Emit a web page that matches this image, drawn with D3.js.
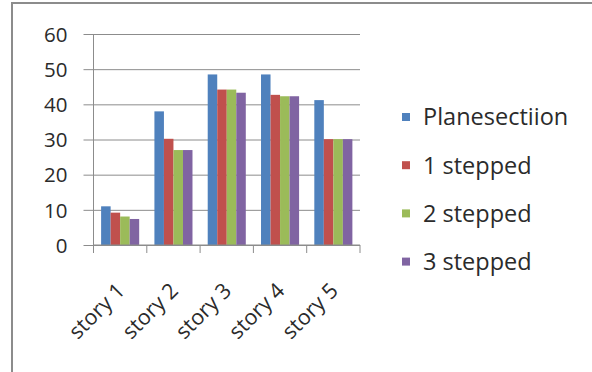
<!DOCTYPE html>
<html><head><meta charset="utf-8">
<script src="https://cdn.jsdelivr.net/npm/d3@7"></script>
<style>html,body{margin:0;padding:0;background:#fff;overflow:hidden}</style>
</head><body>
<svg id="c" width="592" height="372"></svg>
<script>
const categories = ["story 1","story 2","story 3","story 4","story 5"];
const seriesNames = ["Planesectiion","1 stepped","2 stepped","3 stepped"];
const planesection = [11, 38, 48.5, 48.5, 41.2];
const stepped1 = [9.2, 30.2, 44.2, 42.7, 30.1];
const stepped2 = [8.1, 27, 44.2, 42.3, 30.1];
const stepped3 = [7.4, 27, 43.3, 42.3, 30.1];
const yTicks = [0,10,20,30,40,50,60];
const colors = ["#4F81BD","#C0504D","#9BBB59","#8064A2"];

const seriesValues = [planesection, stepped1, stepped2, stepped3];
const svg = d3.select("#c");
const font = "'Open Sans', sans-serif";
const textColor = "#2b2b2b";

// frame
svg.append("path").attr("d","M12,372 L12,3 L592,3").attr("fill","none").attr("stroke","#8c8c8c").attr("stroke-width",2);

const plot = {left:93.5, right:360, top:34, bottom:245};
const y = d3.scaleLinear().domain([0,60]).range([plot.bottom, plot.top]);
const x0 = d3.scaleBand().domain(categories).range([plot.left, plot.right]).paddingInner(0).paddingOuter(0);
const x1 = d3.scaleBand().domain(seriesNames).range([0, x0.bandwidth()]).paddingInner(0).paddingOuter(0.8);

// gridlines + y axis
const yAxis = d3.axisLeft(y).tickValues(yTicks).tickSize(-(plot.right-plot.left)).tickPadding(0).tickFormat(d3.format("d"));
const gy = svg.append("g").attr("transform",`translate(${plot.left},0)`).call(yAxis);
gy.select(".domain").remove();
gy.selectAll(".tick line").attr("x1",-10).attr("stroke","#8c8c8c").attr("stroke-width",1);
gy.selectAll(".tick text").attr("x",-26).attr("font-family",font).attr("font-size",20.5).attr("fill",textColor).attr("dy","0.35em");
svg.append("line").attr("x1",plot.left).attr("x2",plot.left).attr("y1",plot.top).attr("y2",plot.bottom).attr("stroke","#8c8c8c");

// bars
const groups = svg.append("g").selectAll("g").data(categories).join("g")
  .attr("transform",d=>`translate(${x0(d)},0)`);
groups.selectAll("rect").data((d,i)=>seriesNames.map((s,j)=>({s, v:seriesValues[j][i], j})))
  .join("rect")
  .attr("x",d=>x1(d.s)).attr("width",x1.bandwidth())
  .attr("y",d=>y(d.v)).attr("height",d=>y(0)-y(d.v))
  .attr("fill",d=>colors[d.j]);

// x axis
const gx = svg.append("g").attr("transform",`translate(0,${plot.bottom})`);
gx.append("line").attr("x1",plot.left).attr("x2",plot.right).attr("stroke","#8c8c8c");
const boundaries = categories.map(c=>x0(c)).concat([x0(categories[categories.length-1])+x0.bandwidth()]);
gx.selectAll("line.tk").data(boundaries).join("line").attr("class","tk")
  .attr("x1",d=>d).attr("x2",d=>d).attr("y1",0).attr("y2",8).attr("stroke","#8c8c8c");
gx.selectAll("text").data(categories).join("text")
  .attr("transform",d=>`translate(${x0(d)+x0.bandwidth()/2+6},47) rotate(-45)`)
  .attr("text-anchor","end")
  .attr("font-family",font).attr("font-size",21.5).attr("fill",textColor)
  .text(d=>d);

// legend
const lg = svg.append("g").selectAll("g").data(seriesNames).join("g")
  .attr("transform",(d,i)=>`translate(402,${117+i*48.2})`);
lg.append("rect").attr("x",0).attr("y",-4).attr("width",8).attr("height",8).attr("fill",(d,i)=>colors[i]);
lg.append("text").attr("x",21).attr("dy","0.36em").attr("font-family",font).attr("font-size",23.5).attr("fill",textColor).text(d=>d);
</script>
</body></html>
